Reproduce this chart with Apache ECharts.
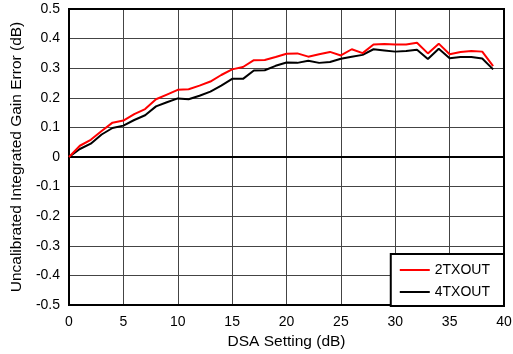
<!DOCTYPE html>
<html><head><meta charset="utf-8">
<script src="https://cdn.jsdelivr.net/npm/echarts@6/dist/echarts.min.js"></script>
<style>html,body{margin:0;padding:0;background:#fff}#c{width:513px;height:354px}</style>
</head><body><div id="c"></div>
<script>
const dsa = [0,1,2,3,4,5,6,7,8,9,10,11,12,13,14,15,16,17,18,19,20,21,22,23,24,25,26,27,28,29,30,31,32,33,34,35,36,37,38,39];
const tx2 = [0,0.038,0.058,0.088,0.116,0.123,0.145,0.162,0.195,0.211,0.227,0.229,0.241,0.255,0.277,0.296,0.304,0.327,0.328,0.338,0.349,0.350,0.339,0.347,0.355,0.343,0.364,0.351,0.380,0.382,0.380,0.380,0.386,0.350,0.383,0.347,0.355,0.358,0.356,0.307];
const tx4 = [0,0.027,0.045,0.076,0.098,0.106,0.125,0.141,0.171,0.185,0.198,0.195,0.207,0.221,0.241,0.264,0.264,0.292,0.293,0.308,0.319,0.318,0.325,0.318,0.321,0.332,0.339,0.345,0.364,0.360,0.356,0.358,0.362,0.331,0.366,0.334,0.338,0.338,0.333,0.296];
const seriesNames = ['2TXOUT','4TXOUT'];
const font = 'Liberation Sans, Arial, sans-serif';
const chart = echarts.init(document.getElementById('c'), null, {renderer:'canvas'});
chart.setOption({
  animation:false,
  backgroundColor:'#fff',
  grid:{left:69,right:9,top:9,bottom:49,show:true,borderColor:'#000',borderWidth:2,z:3,containLabel:false,outerBoundsMode:'none'},
  xAxis:{type:'value',min:0,max:40,interval:5,
    name:'DSA Setting (dB)',nameLocation:'middle',nameGap:27,
    nameTextStyle:{fontFamily:font,fontSize:15.5,color:'#000'},
    axisLine:{show:true,lineStyle:{color:'#000',width:2}},axisTick:{show:false},
    axisLabel:{fontFamily:font,fontSize:14,color:'#000',margin:10},
    splitLine:{show:true,lineStyle:{color:'#444',width:1}}},
  yAxis:{type:'value',min:-0.5,max:0.5,interval:0.1,
    name:'Uncalibrated Integrated Gain Error (dB)',nameLocation:'middle',nameGap:43,
    nameTextStyle:{fontFamily:font,fontSize:15.5,color:'#000'},
    axisLine:{show:true,lineStyle:{color:'#000',width:2}},axisTick:{show:false},
    axisLabel:{fontFamily:font,fontSize:14,color:'#000',margin:9,
      formatter:v=>{const r=Math.round(v*10)/10;return r===0?'0':String(r);}},
    splitLine:{show:true,lineStyle:{color:'#444',width:1}}},
  legend:{right:9,bottom:48,orient:'vertical',itemWidth:30,itemHeight:2,itemGap:8,
    padding:[9,14,7,9],borderColor:'#000',borderWidth:2,backgroundColor:'#fff',
    icon:'rect',textStyle:{fontFamily:font,fontSize:14,color:'#000'},
    data:seriesNames},
  series:[
    {name:seriesNames[0],type:'line',data:dsa.map((d,i)=>[d,tx2[i]]),symbol:'none',lineStyle:{color:'#ff0000',width:2},itemStyle:{color:'#ff0000'},z:3},
    {name:seriesNames[1],type:'line',data:dsa.map((d,i)=>[d,tx4[i]]),symbol:'none',lineStyle:{color:'#000',width:2},itemStyle:{color:'#000'},z:2}
  ]
});
</script></body></html>
